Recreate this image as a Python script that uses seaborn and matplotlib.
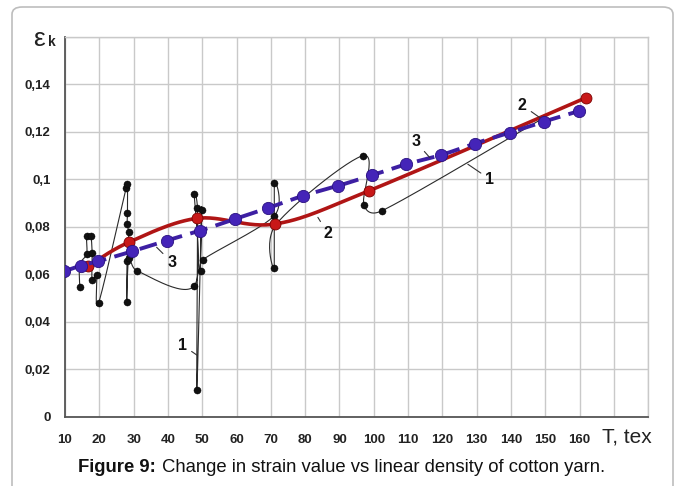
import numpy as np
import matplotlib
matplotlib.use("Agg")
import matplotlib.pyplot as plt
import seaborn as sns
from matplotlib.patches import FancyBboxPatch

# ---------------- data ----------------
T_TICKS = list(range(10, 190, 10))
T_TICK_LABELS = [str(v) for v in range(10, 170, 10)] + ["", ""]
E_TICKS = [0, 0.02, 0.04, 0.06, 0.08, 0.10, 0.12, 0.14, 0.16]
E_TICK_LABELS = ["0", "0,02", "0,04", "0,06", "0,08", "0,1", "0,12", "0,14", ""]

# curve 1 (experimental, black) in drawing order
curve1_T = [14.3, 14.3, 16.3, 16.3, 17.5, 17.9, 17.9, 19.2, 19.8, 27.8, 28.2, 28.2, 28.1,
            28.6, 28.1, 28.0, 28.6, 30.9, 47.7, 47.7, 48.6, 48.4, 49.8, 49.5, 50.1, 71.0,
            71.0, 71.0, 71.5, 96.9, 97.1, 102.4, 149.0]
curve1_E = [0.0546, 0.0640, 0.0686, 0.0760, 0.0760, 0.0690, 0.0574, 0.0598, 0.0480, 0.0965,
            0.0980, 0.0860, 0.0810, 0.0777, 0.0658, 0.0484, 0.0670, 0.0616, 0.0552, 0.0938,
            0.0880, 0.0112, 0.0871, 0.0616, 0.0661, 0.0847, 0.0983, 0.0626, 0.0810, 0.1100,
            0.0893, 0.0868, 0.1255]

# curve 2 (red)
curve2_T = [16.6, 28.6, 48.6, 71.2, 98.6, 161.8]
curve2_E = [0.0633, 0.0735, 0.0836, 0.0812, 0.0952, 0.1344]

# curve 3 (blue dashed)
curve3_T = [9.6, 14.6, 19.5, 29.6, 39.6, 49.4, 59.5, 69.3, 79.4, 89.6, 99.6, 109.5,
            119.7, 129.4, 139.6, 149.5, 159.8]
curve3_E = [0.0612, 0.0637, 0.0654, 0.0697, 0.0742, 0.0784, 0.0833, 0.0880, 0.0931,
            0.0973, 0.1018, 0.1064, 0.1103, 0.1151, 0.1197, 0.1243, 0.1288]

# curve labels: (text, text position, leader end)
LABELS = [
    ("3", (112.2, 0.1159), (116.3, 0.1092)),
    ("3", (41.1, 0.0651), (36.7, 0.0714)),
    ("2", (86.6, 0.0772), (83.7, 0.0840)),
    ("2", (143.3, 0.1312), (148.4, 0.1260)),
    ("1", (133.8, 0.1001), (127.4, 0.1064)),
    ("1", (44.3, 0.0301), (48.5, 0.0259)),
]

# ---------------- style ----------------
sns.set_theme(style="white")
plt.rcParams["font.family"] = ["Liberation Sans", "DejaVu Sans"]

W, H = 680, 486
fig = plt.figure(figsize=(W / 100, H / 100), dpi=100)
ax = fig.add_axes([65 / W, 1 - 416.7 / H, (648.3 - 65) / W, (416.7 - 37) / H])
ax.set_xlim(10, 180)
ax.set_ylim(0, 0.16)

GRID = "#c9c9c9"
ax.set_xticks(T_TICKS)
ax.set_xticklabels(T_TICK_LABELS, fontsize=9.5, fontweight="bold", color="#222222")
ax.set_yticks(E_TICKS)
ax.set_yticklabels(E_TICK_LABELS, fontsize=9.5, fontweight="bold", color="#222222")
ax.tick_params(axis="x", direction="in", length=4, width=1, color="#555555", pad=12.5)
ax.tick_params(axis="y", length=0, pad=10.5)
ax.grid(True, color=GRID, lw=1.0)
ax.set_axisbelow(True)
for s in ("left", "bottom"):
    ax.spines[s].set_color("#555555")
    ax.spines[s].set_linewidth(1.3)
for s in ("top", "right"):
    ax.spines[s].set_color(GRID)
    ax.spines[s].set_linewidth(1.0)


def smooth(xs, ys, n=30):
    """Excel-like smoothed line through the points, computed in display space."""
    P = ax.transData.transform(np.column_stack([xs, ys]))
    m = len(P)
    Tg = np.array([(P[min(i + 1, m - 1)] - P[max(i - 1, 0)]) / 6.0 for i in range(m)])
    out = [P[0]]
    t = np.linspace(0, 1, n)[1:, None]
    for i in range(m - 1):
        p0, p3 = P[i], P[i + 1]
        L = np.hypot(*(p3 - p0))
        t0, t1 = Tg[i].copy(), Tg[i + 1].copy()
        for tv in (t0, t1):
            mag = np.hypot(*tv)
            if mag > L / 2 and mag > 0:
                tv *= (L / 2) / mag
        c1 = p0 + t0
        c2 = p3 - t1
        seg = (1 - t) ** 3 * p0 + 3 * (1 - t) ** 2 * t * c1 + 3 * (1 - t) * t ** 2 * c2 + t ** 3 * p3
        out.extend(seg)
    return ax.transData.inverted().transform(np.array(out))


# curve 1
s1 = smooth(curve1_T, curve1_E)
sns.lineplot(x=s1[:, 0], y=s1[:, 1], sort=False, estimator=None, ax=ax,
             color="#2a2a2a", lw=0.8, zorder=2)
sns.scatterplot(x=curve1_T, y=curve1_E, ax=ax, color="#111111", s=26,
                edgecolor="#000000", linewidth=0.3, zorder=3)

# curve 2
s2 = smooth(curve2_T, curve2_E)
sns.lineplot(x=s2[:, 0], y=s2[:, 1], sort=False, estimator=None, ax=ax,
             color="#b01515", lw=2.6, zorder=4)
sns.scatterplot(x=curve2_T, y=curve2_E, ax=ax, color="#c81818", s=62,
                edgecolor="#7a0000", linewidth=0.6, zorder=5)

# curve 3
s3 = smooth(curve3_T, curve3_E)
sns.lineplot(x=s3[:, 0], y=s3[:, 1], sort=False, estimator=None, ax=ax,
             color="#3d1fa3", lw=2.8, linestyle=(0, (4.6, 2.2)), zorder=6)
sns.scatterplot(x=curve3_T, y=curve3_E, ax=ax, color="#4424b8", s=78,
                edgecolor="#2a1280", linewidth=0.6, zorder=7)

for txt, tpos, lpos in LABELS:
    ax.annotate(txt, xy=lpos, xytext=tpos, ha="center", va="center",
                fontsize=11.5, fontweight="bold", color="#111111", zorder=8,
                arrowprops=dict(arrowstyle="-", color="#333333", lw=0.8,
                                shrinkA=1, shrinkB=0))

ax.set_xlabel("")
ax.set_ylabel("")
if ax.get_legend():
    ax.get_legend().remove()

# axis titles
fig.text(39 / W, 1 - 39 / H, "ε", fontsize=19, ha="center", va="center", color="#222222")
fig.text(51.5 / W, 1 - 42 / H, "k", fontsize=10, fontweight="bold", ha="center", va="center",
         color="#222222")
fig.text(627 / W, 1 - 437 / H, "T, tex", fontsize=15, ha="center", va="center",
         color="#222222")

# caption
fig.text(78 / W, 1 - 468 / H, "Figure 9:", fontsize=13.3, fontweight="bold",
         ha="left", va="center", color="#111111")
fig.text(162 / W, 1 - 468 / H, "Change in strain value vs linear density of cotton yarn.",
         fontsize=13.3, ha="left", va="center", color="#111111")

# frame
frame = FancyBboxPatch((12 / W, -0.05), (673 - 12) / W, (1 - 7 / H) + 0.05,
                       boxstyle="round,pad=0,rounding_size=0.015",
                       transform=fig.transFigure, fill=False,
                       edgecolor="#bdbdbd", lw=1.2, zorder=0)
fig.patches.append(frame)

fig.savefig("out.png", dpi=100)
